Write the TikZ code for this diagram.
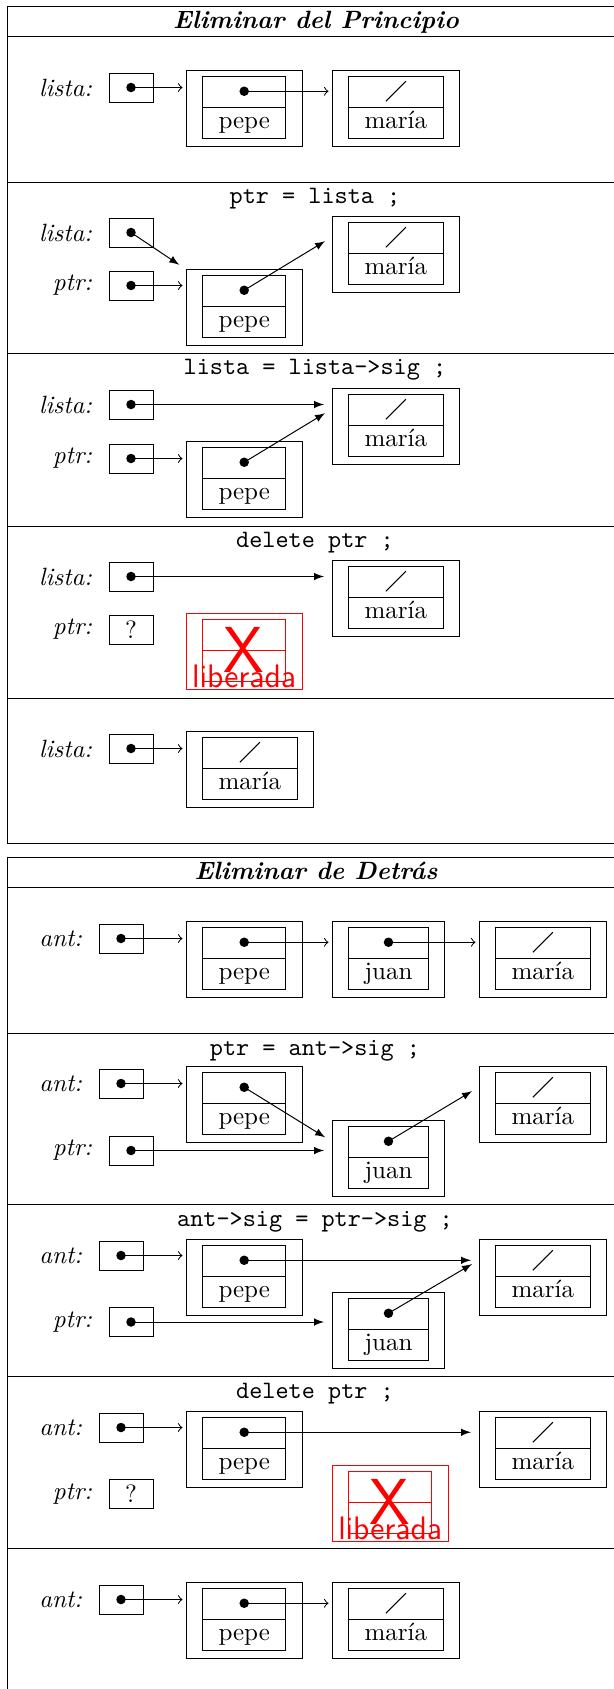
\documentclass[tikz,border=0pt]{standalone}
\usetikzlibrary{positioning,fit,calc,shapes.multipart}
\tikzset{
  caja/.style = {draw, minimum width=17.6pt, minimum height=11.6pt, inner sep=0pt},
  etiqueta/.style = {font=\itshape},
  celda/.style = {draw, rectangle split, rectangle split parts=2, inner xsep=6.4pt, inner ysep=0pt},
  marco/.style = {draw, inner xsep=6.4pt, inner ysep=2pt},
  libre/.style = {draw=red},
  titulo/.style = {font=\bfseries\itshape, anchor=base},
  codigo/.style = {font=\ttfamily, anchor=base},
  sig/.style = {->, shorten >=1.2pt},
  mueve/.style = {-latex, shorten >=3pt}
}
% caja de puntero con su etiqueta
\newcommand{\pnt}[4]{%
  \node[caja] (#1) at (#2,#3) {};
  \node[etiqueta, left=3pt of #1] (#1e) {#4};
  \fill (#1.center) circle (1.9pt);
}
% nodo de la lista (celda sig arriba, dato abajo)
\newcommand{\nodolista}[4]{%
  \node[celda, anchor=west] (#1) at (#2,#3) {\strut\nodepart{two}\strut #4};
  \node[marco, fit={(#1) ([yshift=-1.2pt]#1.south)}] (#1m) {};
  \coordinate (#1p) at ($(#1.north)!.5!(#1.text split)$);
}
\newcommand{\dato}[1]{\fill (#1p) circle (1.9pt);}
\newcommand{\nulo}[1]{\draw ([shift={(-4pt,-4pt)}]#1p) -- ([shift={(4pt,4pt)}]#1p);}
% nodo liberado
\newcommand{\liberado}[3]{%
  \node[celda, libre, anchor=west] (#1) at (#2,#3) {\strut\nodepart{two}\strut\phantom{pepe}};
  \node[marco, libre, fit={(#1) ([yshift=-1.2pt]#1.south)}] (#1m) {};
  \node[red, font=\sffamily\fontsize{26}{26}\selectfont, inner sep=0pt] (#1x) at (#1.center) {X};
  \node[red, font=\sffamily\fontsize{13}{13}\selectfont, anchor=base, inner sep=0pt] (#1t) at ([yshift=1pt]#1m.south) {liberada};
}

\begin{document}
\begin{tikzpicture}[x=0.4pt, y=-0.4pt]
\useasboundingbox (0,0) rectangle (614,1689);

% marcos de las tablas
\draw (614,6) -- (7,6) -- (7,843) -- (614,843);
\foreach \y in {36,182,353,526,698} \draw (7,\y) -- (614,\y);
\draw (614,857) -- (7,857) -- (7,1689);
\foreach \y in {887,1033,1204,1376,1548} \draw (7,\y) -- (614,\y);

%% Eliminar del Principio
\node[titulo] (t1) at (316,28) {Eliminar del Principio};

\pnt{l1}{131}{87.5}{lista:}
\nodolista{pe1}{202}{107}{pepe} \dato{pe1}
\nodolista{ma1}{348}{107}{maría} \nulo{ma1}
\draw[sig] (l1.center) -- (l1.center -| pe1m.west);
\draw[sig] (pe1p) -- (pe1p -| ma1m.west);

\node[codigo] (c2) at (315,203) {ptr = lista ;};
\pnt{l2}{131}{232.5}{lista:}
\pnt{p2}{131}{285.5}{ptr:}
\nodolista{pe2}{202}{306}{pepe} \dato{pe2}
\nodolista{ma2}{348}{253}{maría} \nulo{ma2}
\draw[mueve] (l2.center) -- (pe2m.north west);
\draw[sig] (p2.center) -- (p2.center -| pe2m.west);
\draw[mueve] (pe2p) -- (ma2p -| ma2m.west);

\node[codigo] (c3) at (315,374) {lista = lista->sig ;};
\pnt{l3}{131}{404.5}{lista:}
\pnt{p3}{131}{458.5}{ptr:}
\nodolista{pe3}{202}{478}{pepe} \dato{pe3}
\nodolista{ma3}{348}{425}{maría} \nulo{ma3}
\draw[mueve] (l3.center) -- (l3.center -| ma3m.west);
\draw[sig] (p3.center) -- (p3.center -| pe3m.west);
\draw[mueve] (pe3p) -- (ma3p -| ma3m.west);

\node[codigo] (c4) at (315,547) {delete ptr ;};
\pnt{l4}{131}{576.5}{lista:}
\node[caja] (p4) at (131,629.5) {?};
\node[etiqueta, left=3pt of p4] (p4e) {ptr:};
\nodolista{ma4}{348}{597}{maría} \nulo{ma4}
\liberado{lb4}{202}{650}
\draw[mueve] (l4.center) -- (l4.center -| ma4m.west);

\pnt{l5}{131}{748.5}{lista:}
\nodolista{ma5}{202}{768}{maría} \nulo{ma5}
\draw[sig] (l5.center) -- (l5.center -| ma5m.west);

%% Eliminar de Detras
\node[titulo] (t2) at (316,879) {Eliminar de Detrás};

\pnt{a6}{121}{938.5}{ant:}
\nodolista{pe6}{202}{958}{pepe} \dato{pe6}
\nodolista{ju6}{348}{958}{juan} \dato{ju6}
\nodolista{ma6}{495}{958}{maría} \nulo{ma6}
\draw[sig] (a6.center) -- (a6.center -| pe6m.west);
\draw[sig] (pe6p) -- (pe6p -| ju6m.west);
\draw[sig] (ju6p) -- (ju6p -| ma6m.west);

\node[codigo] (c7) at (315,1055) {ptr = ant->sig ;};
\pnt{a7}{121}{1083.5}{ant:}
\pnt{p7}{131}{1150.5}{ptr:}
\nodolista{pe7}{202}{1103}{pepe} \dato{pe7}
\nodolista{ju7}{348}{1157}{juan} \dato{ju7}
\nodolista{ma7}{495}{1103}{maría} \nulo{ma7}
\draw[sig] (a7.center) -- (a7.center -| pe7m.west);
\draw[mueve] (pe7p) -- (ju7p -| ju7m.west);
\draw[mueve] (p7.center) -- (p7.center -| ju7m.west);
\draw[mueve] (ju7p) -- (ma7p -| ma7m.west);

\node[codigo] (c8) at (315,1226) {ant->sig = ptr->sig ;};
\pnt{a8}{121}{1255.5}{ant:}
\pnt{p8}{131}{1322}{ptr:}
\nodolista{pe8}{202}{1276}{pepe} \dato{pe8}
\nodolista{ju8}{348}{1329}{juan} \dato{ju8}
\nodolista{ma8}{495}{1276}{maría} \nulo{ma8}
\draw[sig] (a8.center) -- (a8.center -| pe8m.west);
\draw[mueve] (pe8p) -- (pe8p -| ma8m.west);
\draw[mueve] (p8.center) -- (p8.center -| ju8m.west);
\draw[mueve] (ju8p) -- (ma8p -| ma8m.west);

\node[codigo] (c9) at (315,1398) {delete ptr ;};
\pnt{a9}{121}{1427.5}{ant:}
\node[caja] (p9) at (131,1494) {?};
\node[etiqueta, left=3pt of p9] (p9e) {ptr:};
\nodolista{pe9}{202}{1448}{pepe} \dato{pe9}
\nodolista{ma9}{495}{1448}{maría} \nulo{ma9}
\liberado{lb9}{348}{1502}
\draw[sig] (a9.center) -- (a9.center -| pe9m.west);
\draw[mueve] (pe9p) -- (pe9p -| ma9m.west);

\pnt{a10}{121}{1599.5}{ant:}
\nodolista{pe10}{202}{1619}{pepe} \dato{pe10}
\nodolista{ma10}{348}{1619}{maría} \nulo{ma10}
\draw[sig] (a10.center) -- (a10.center -| pe10m.west);
\draw[sig] (pe10p) -- (pe10p -| ma10m.west);
\end{tikzpicture}
\end{document}
